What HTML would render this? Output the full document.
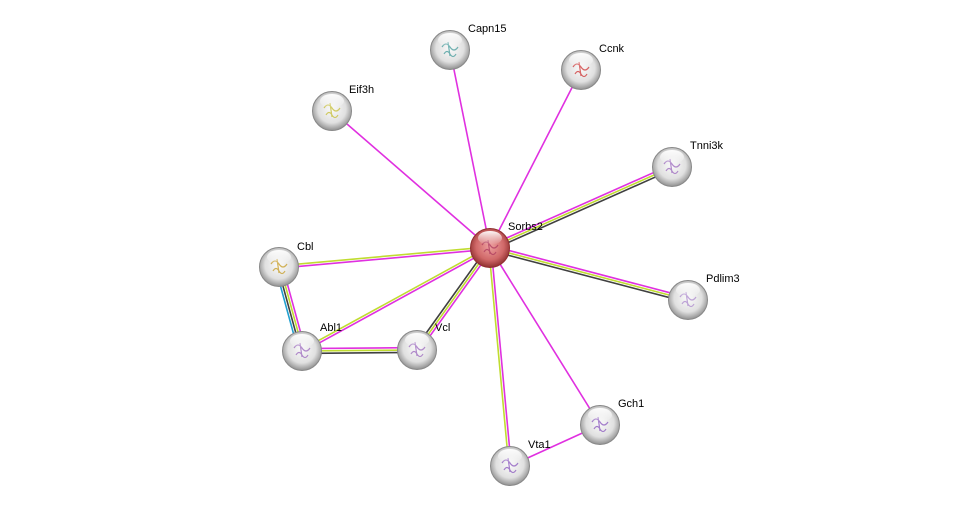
<!DOCTYPE html>
<html><head><meta charset="utf-8"><style>
html,body{margin:0;padding:0;background:#fff;}
svg{display:block;font-family:"Liberation Sans",Arial,sans-serif;}
</style></head><body>
<svg id="s" width="976" height="512" viewBox="0 0 976 512" xmlns="http://www.w3.org/2000/svg">
<defs>
<radialGradient id="g" cx="50%" cy="45%" r="55%">
<stop offset="0%" stop-color="#fafafa"/><stop offset="65%" stop-color="#e0e0e0"/><stop offset="100%" stop-color="#909090"/>
</radialGradient>
<radialGradient id="r" cx="50%" cy="45%" r="55%">
<stop offset="0%" stop-color="#eea0a0"/><stop offset="65%" stop-color="#d06868"/><stop offset="100%" stop-color="#903030"/>
</radialGradient>
<linearGradient id="hl" x1="0" y1="0" x2="0" y2="1">
<stop offset="0%" stop-color="#fff" stop-opacity="0.95"/><stop offset="100%" stop-color="#fff" stop-opacity="0"/>
</linearGradient>
</defs>
<g id="edges"></g>
<g id="nodes"></g>
</svg>
<script>
var N={Sorbs2:[490,248,"r",[508,230],"#b04060"],Capn15:[450,50,"g",[468,32],"#50a0a0"],Ccnk:[581,70,"g",[599,52],"#d04040"],Eif3h:[332,111,"g",[349,93],"#c8c040"],
Tnni3k:[672,167,"g",[690,149],"#a070c0"],Cbl:[279,267,"g",[297,250],"#c8a030"],Pdlim3:[688,300,"g",[706,282],"#b090d0"],Abl1:[302,351,"g",[320,331],"#a070c0"],
Vcl:[417,350,"g",[435,331],"#a070c0"],Gch1:[600,425,"g",[618,407],"#9060c0"],Vta1:[510,466,"g",[528,448],"#9060c0"]};
var M="#e030e0",Y="#c0dc30",K="#404040",B="#20a0d0";
var E=[["Sorbs2","Capn15",[M]],["Sorbs2","Ccnk",[M]],["Sorbs2","Eif3h",[M]],["Sorbs2","Tnni3k",[M,Y,K]],
["Sorbs2","Pdlim3",[M,Y,K]],["Sorbs2","Cbl",[M,Y]],["Sorbs2","Abl1",[M,Y]],["Sorbs2","Vcl",[M,Y,K]],
["Sorbs2","Vta1",[M,Y]],["Sorbs2","Gch1",[M]],["Cbl","Abl1",[M,Y,K,B]],["Abl1","Vcl",[M,Y,K]],["Vta1","Gch1",[M]]];
var ns="http://www.w3.org/2000/svg",eg=document.getElementById("edges"),ng=document.getElementById("nodes");
E.forEach(function(e){var a=N[e[0]],b=N[e[1]],dx=b[0]-a[0],dy=b[1]-a[1],l=Math.hypot(dx,dy),px=-dy/l,py=dx/l,n=e[2].length;
e[2].forEach(function(c,i){var o=(i-(n-1)/2)*2.4;var ln=document.createElementNS(ns,"line");
ln.setAttribute("x1",a[0]+px*o);ln.setAttribute("y1",a[1]+py*o);ln.setAttribute("x2",b[0]+px*o);ln.setAttribute("y2",b[1]+py*o);
ln.setAttribute("stroke",c);ln.setAttribute("stroke-width","1.6");eg.appendChild(ln);});});
for(var k in N){var v=N[k];var c=document.createElementNS(ns,"circle");c.setAttribute("cx",v[0]);c.setAttribute("cy",v[1]);c.setAttribute("r",19.5);
c.setAttribute("fill","url(#"+v[2]+")");c.setAttribute("stroke",v[2]=="r"?"#903030":"#888");c.setAttribute("stroke-width","1");ng.appendChild(c);
var p=document.createElementNS(ns,"path");var x=v[0],y=v[1];
p.setAttribute("d","M"+(x-8)+" "+(y-3)+" q4 -6 8 0 t8 0 M"+(x-6)+" "+(y+4)+" q3 -5 6 0 t6 0 M"+(x-2)+" "+(y-8)+" l2 14");
p.setAttribute("stroke",v[4]);p.setAttribute("stroke-width","1.2");p.setAttribute("fill","none");p.setAttribute("opacity","0.8");ng.appendChild(p);
var h=document.createElementNS(ns,"ellipse");h.setAttribute("cx",v[0]);h.setAttribute("cy",v[1]-10);h.setAttribute("rx",12);h.setAttribute("ry",7);
h.setAttribute("fill","url(#hl)");ng.appendChild(h);
var t=document.createElementNS(ns,"text");t.setAttribute("x",v[3][0]);t.setAttribute("y",v[3][1]);t.setAttribute("font-size","11");t.setAttribute("fill","#000");
t.textContent=k;ng.appendChild(t);}
</script>
</body></html>
